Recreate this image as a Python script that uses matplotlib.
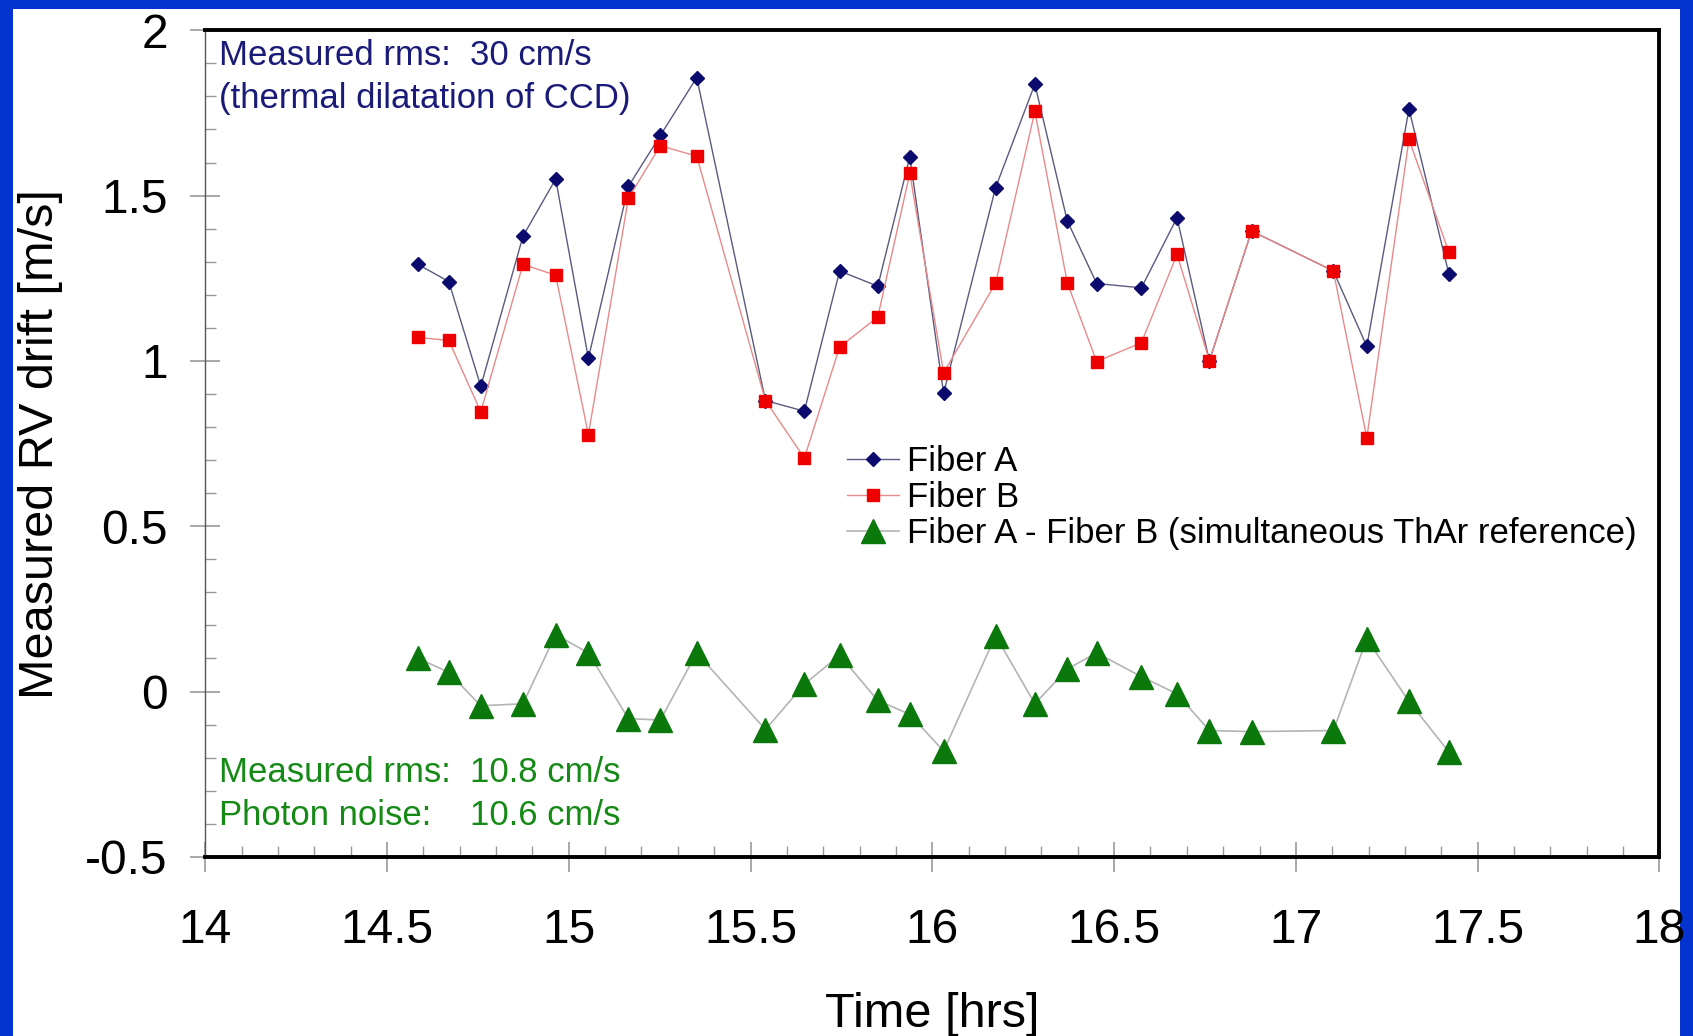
import numpy as np
import matplotlib
matplotlib.use("Agg")
import matplotlib.pyplot as plt
from matplotlib.patches import Rectangle
from matplotlib.ticker import MultipleLocator

plt.rcParams['font.family'] = ['Liberation Sans', 'DejaVu Sans']

# observation times [hrs]
time_hrs = [14.585, 14.670, 14.758, 14.874, 14.964, 15.054, 15.164, 15.252, 15.352,
            15.541, 15.648, 15.745, 15.850, 15.938, 16.031, 16.174, 16.282, 16.371,
            16.452, 16.575, 16.673, 16.762, 16.878, 17.103, 17.195, 17.311, 17.421]

# RV drift of each fiber [m/s]
fiber_a = [1.292, 1.240, 0.923, 1.377, 1.550, 1.008, 1.528, 1.682, 1.857,
           0.880, 0.848, 1.272, 1.226, 1.617, 0.902, 1.524, 1.837, 1.424,
           1.234, 1.221, 1.433, 1.000, 1.393, 1.272, 1.044, 1.762, 1.262]
fiber_b = [1.071, 1.062, 0.846, 1.292, 1.259, 0.777, 1.492, 1.651, 1.619,
           0.880, 0.706, 1.042, 1.133, 1.567, 0.964, 1.235, 1.755, 1.237,
           0.998, 1.055, 1.322, 1.001, 1.393, 1.272, 0.767, 1.670, 1.328]
# simultaneous ThAr reference difference
fiber_diff = [0.101, 0.058, -0.043, -0.037, 0.172, 0.117, -0.082, -0.086, 0.117,
              -0.115, 0.022, 0.110, -0.027, -0.069, -0.180, 0.169, -0.037, 0.068,
              0.117, 0.045, -0.007, -0.118, -0.121, -0.118, 0.159, -0.030, -0.183]

navy = '#1a1a78'
green = '#168a16'

fig = plt.figure(figsize=(16.93, 10.36), dpi=100)
fig.patch.set_facecolor('#0433cf')
fig.add_artist(Rectangle((12 / 1568, 0), 1544 / 1568, 1 - 8 / 960,
                         transform=fig.transFigure, facecolor='white',
                         edgecolor='none', zorder=0))

ax = fig.add_axes([0.1212, 0.1729, 0.8590, 0.7979])
ax.set_facecolor('white')

ax.plot(time_hrs, fiber_a, color='#5a5a80', lw=1.0, marker='D', ms=7,
        mfc='#0b0b6e', mec='#0b0b6e', label='Fiber A', zorder=3)
ax.plot(time_hrs, fiber_b, color='#e88a8a', lw=1.0, marker='s', ms=8,
        mfc='#ee0000', mec='#ee0000', label='Fiber B', zorder=4)
ax.plot(time_hrs, fiber_diff, color='#b4b4b4', lw=1.2, marker='^', ms=17,
        mfc='#0b780b', mec='#0b780b', label='Fiber A - Fiber B (simultaneous ThAr reference)',
        zorder=3)

ax.set_xlim(14, 18)
ax.set_ylim(-0.5, 2)
ax.xaxis.set_major_locator(MultipleLocator(0.5))
ax.xaxis.set_minor_locator(MultipleLocator(0.1))
ax.yaxis.set_major_locator(MultipleLocator(0.5))
ax.yaxis.set_minor_locator(MultipleLocator(0.1))
ax.xaxis.set_major_formatter(plt.FuncFormatter(lambda v, p: f'{v:g}'))
ax.yaxis.set_major_formatter(plt.FuncFormatter(lambda v, p: f'{v:g}'))

ax.tick_params(which='major', direction='inout', length=22, width=1.2,
               color='#999999', labelsize=34.5)
ax.tick_params(which='minor', direction='in', length=8, width=1.0, color='#999999')
ax.tick_params(axis='x', which='major', pad=26)
ax.tick_params(axis='y', which='major', pad=16)

for side in ('top', 'right', 'bottom'):
    ax.spines[side].set_linewidth(2.8)
    ax.spines[side].set_color('black')
ax.spines['left'].set_linewidth(1.0)
ax.spines['left'].set_color('#555555')

ax.set_xlabel('Time [hrs]', fontsize=35)
ax.set_ylabel('Measured RV drift [m/s]', fontsize=35)
ax.xaxis.set_label_coords(0.5, -0.163)
ax.yaxis.set_label_coords(-0.098, 0.5)

# rms notes
ax.text(0.0097, 0.969, 'Measured rms:', transform=ax.transAxes, fontsize=25,
        color=navy, va='center', ha='left')
ax.text(0.182, 0.969, '30 cm/s', transform=ax.transAxes, fontsize=25,
        color=navy, va='center', ha='left')
ax.text(0.0097, 0.917, '(thermal dilatation of CCD)', transform=ax.transAxes,
        fontsize=25, color=navy, va='center', ha='left')

ax.text(0.0097, 0.102, 'Measured rms:', transform=ax.transAxes, fontsize=25,
        color=green, va='center', ha='left')
ax.text(0.182, 0.102, '10.8 cm/s', transform=ax.transAxes, fontsize=25,
        color=green, va='center', ha='left')
ax.text(0.0097, 0.050, 'Photon noise:', transform=ax.transAxes, fontsize=25,
        color=green, va='center', ha='left')
ax.text(0.182, 0.050, '10.6 cm/s', transform=ax.transAxes, fontsize=25,
        color=green, va='center', ha='left')

ax.legend(loc='upper left', bbox_to_anchor=(0.441, 0.498), frameon=False,
          fontsize=25, handlelength=1.5, handletextpad=0.25, labelspacing=0.08,
          borderpad=0, borderaxespad=0)

fig.savefig('out.png', dpi=100, facecolor=fig.get_facecolor())
